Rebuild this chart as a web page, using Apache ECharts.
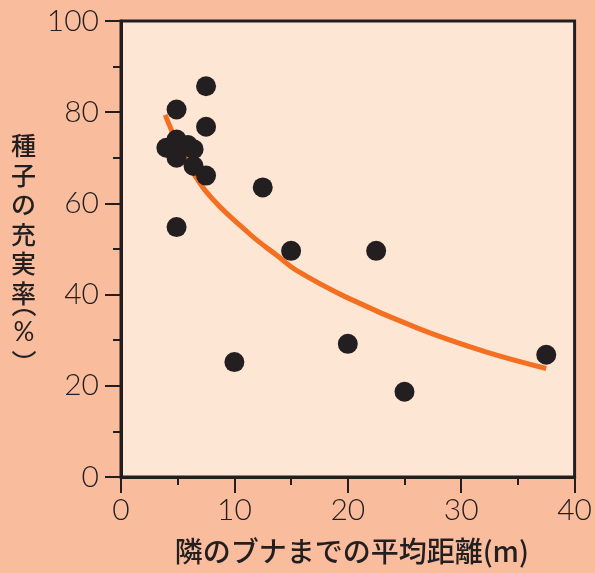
<!DOCTYPE html>
<html>
<head>
<meta charset="utf-8">
<script src="https://cdn.jsdelivr.net/npm/echarts@6/dist/echarts.min.js"></script>
<style>
  html, body { margin: 0; padding: 0; background: #f9bd9e; }
  #chart { width: 595px; height: 573px; }
</style>
</head>
<body>
<div id="chart"></div>
<script>
// 観測点 [隣のブナまでの平均距離(m), 種子の充実率(%)]
var distance = [7.5, 4.9, 7.5, 4.0, 4.9, 5.9, 6.4, 4.9, 6.4, 7.5, 12.5, 4.9, 15.0, 22.5, 10.0, 20.0, 25.0, 37.5]
var fillRate = [85.7, 80.6, 76.8, 72.2, 74.0, 72.8, 71.9, 70.0, 68.2, 66.1, 63.5, 54.8, 49.6, 49.6, 25.2, 29.2, 18.7, 26.8]

// 回帰曲線
var curveX = [3.9, 5.0, 7.4, 11.3, 13.9, 15.4, 19.8, 26.2, 32.1, 37.5]
var curveY = [79.4, 73.2, 62.9, 53.4, 48.3, 45.4, 39.5, 32.6, 27.5, 23.8]

var xTicks = [0, 10, 20, 30, 40]
var yTicks = [0, 20, 40, 60, 80, 100]

var xName = '隣のブナまでの平均距離(m)'
var yName = '種子の充実率'
var yUnit = ['︵', '%', '︶']

var dark = '#231f20'
var tickFont = 'Lato, "Noto Sans", sans-serif'
var cjkFont = '"Noto Sans CJK JP", sans-serif'

var chart = echarts.init(document.getElementById('chart'))

function zip(a, b) {
  var out = []
  a.forEach(function (v, i) { out.push([v, b[i]]) })
  return out
}

// 縦書きの単位 (%)
var unitY = [304, 333, 362]
var unitGraphics = yUnit.map(function (ch, i) {
  return {
    type: 'text',
    x: 24,
    y: unitY[i],
    style: {
      text: ch,
      font: (ch === '%' ? '400 26px Lato, sans-serif' : '500 25px ' + cjkFont),
      fill: dark,
      align: 'center',
      verticalAlign: 'middle'
    }
  }
})

chart.setOption({
  backgroundColor: '#f9bd9e',
  animation: false,
  grid: {
    left: 121,
    right: 18,
    top: 21,
    bottom: 96,
    show: true,
    backgroundColor: '#fee6d5',
    borderColor: dark,
    borderWidth: 3
  },
  xAxis: {
    type: 'value',
    min: 0,
    max: 40,
    interval: 10,
    name: xName,
    nameLocation: 'middle',
    nameGap: 60,
    nameTextStyle: { fontFamily: cjkFont, fontSize: 28, fontWeight: 500, color: dark, padding: [0, 0, 0, 8] },
    axisLine: { show: true, lineStyle: { color: dark, width: 3 } },
    axisTick: { show: true, inside: false, length: 16, lineStyle: { color: dark, width: 2 } },
    minorTick: { show: true, splitNumber: 2, length: 8, lineStyle: { color: dark, width: 2 } },
    splitLine: { show: false },
    axisLabel: {
      margin: 18,
      fontFamily: tickFont,
      fontWeight: 300,
      fontSize: 30,
      color: dark,
      formatter: function (v) { return xTicks.indexOf(v) >= 0 ? String(v) : '' }
    }
  },
  yAxis: {
    type: 'value',
    min: 0,
    max: 100,
    interval: 20,
    axisLine: { show: true, lineStyle: { color: dark, width: 3 } },
    axisTick: { show: true, inside: false, length: 16, lineStyle: { color: dark, width: 2 } },
    minorTick: { show: true, splitNumber: 2, length: 8, lineStyle: { color: dark, width: 2 } },
    splitLine: { show: false },
    axisLabel: {
      margin: 22,
      fontFamily: tickFont,
      fontWeight: 300,
      fontSize: 30,
      color: dark,
      formatter: function (v) { return yTicks.indexOf(v) >= 0 ? String(v) : '' }
    }
  },
  graphic: [{
    type: 'text',
    left: 11,
    top: 131,
    style: {
      text: yName.split('').join('\n'),
      font: '500 25px ' + cjkFont,
      lineHeight: 29.5,
      fill: dark,
      align: 'center'
    }
  }].concat(unitGraphics),
  series: [
    {
      name: 'curve',
      type: 'line',
      smooth: 0.4,
      showSymbol: false,
      data: zip(curveX, curveY),
      lineStyle: { color: '#f36f21', width: 5 },
      z: 2
    },
    {
      name: 'obs',
      type: 'scatter',
      symbolSize: 20,
      data: zip(distance, fillRate),
      itemStyle: { color: dark, opacity: 1 },
      z: 3
    }
  ]
})
</script>
</body>
</html>
